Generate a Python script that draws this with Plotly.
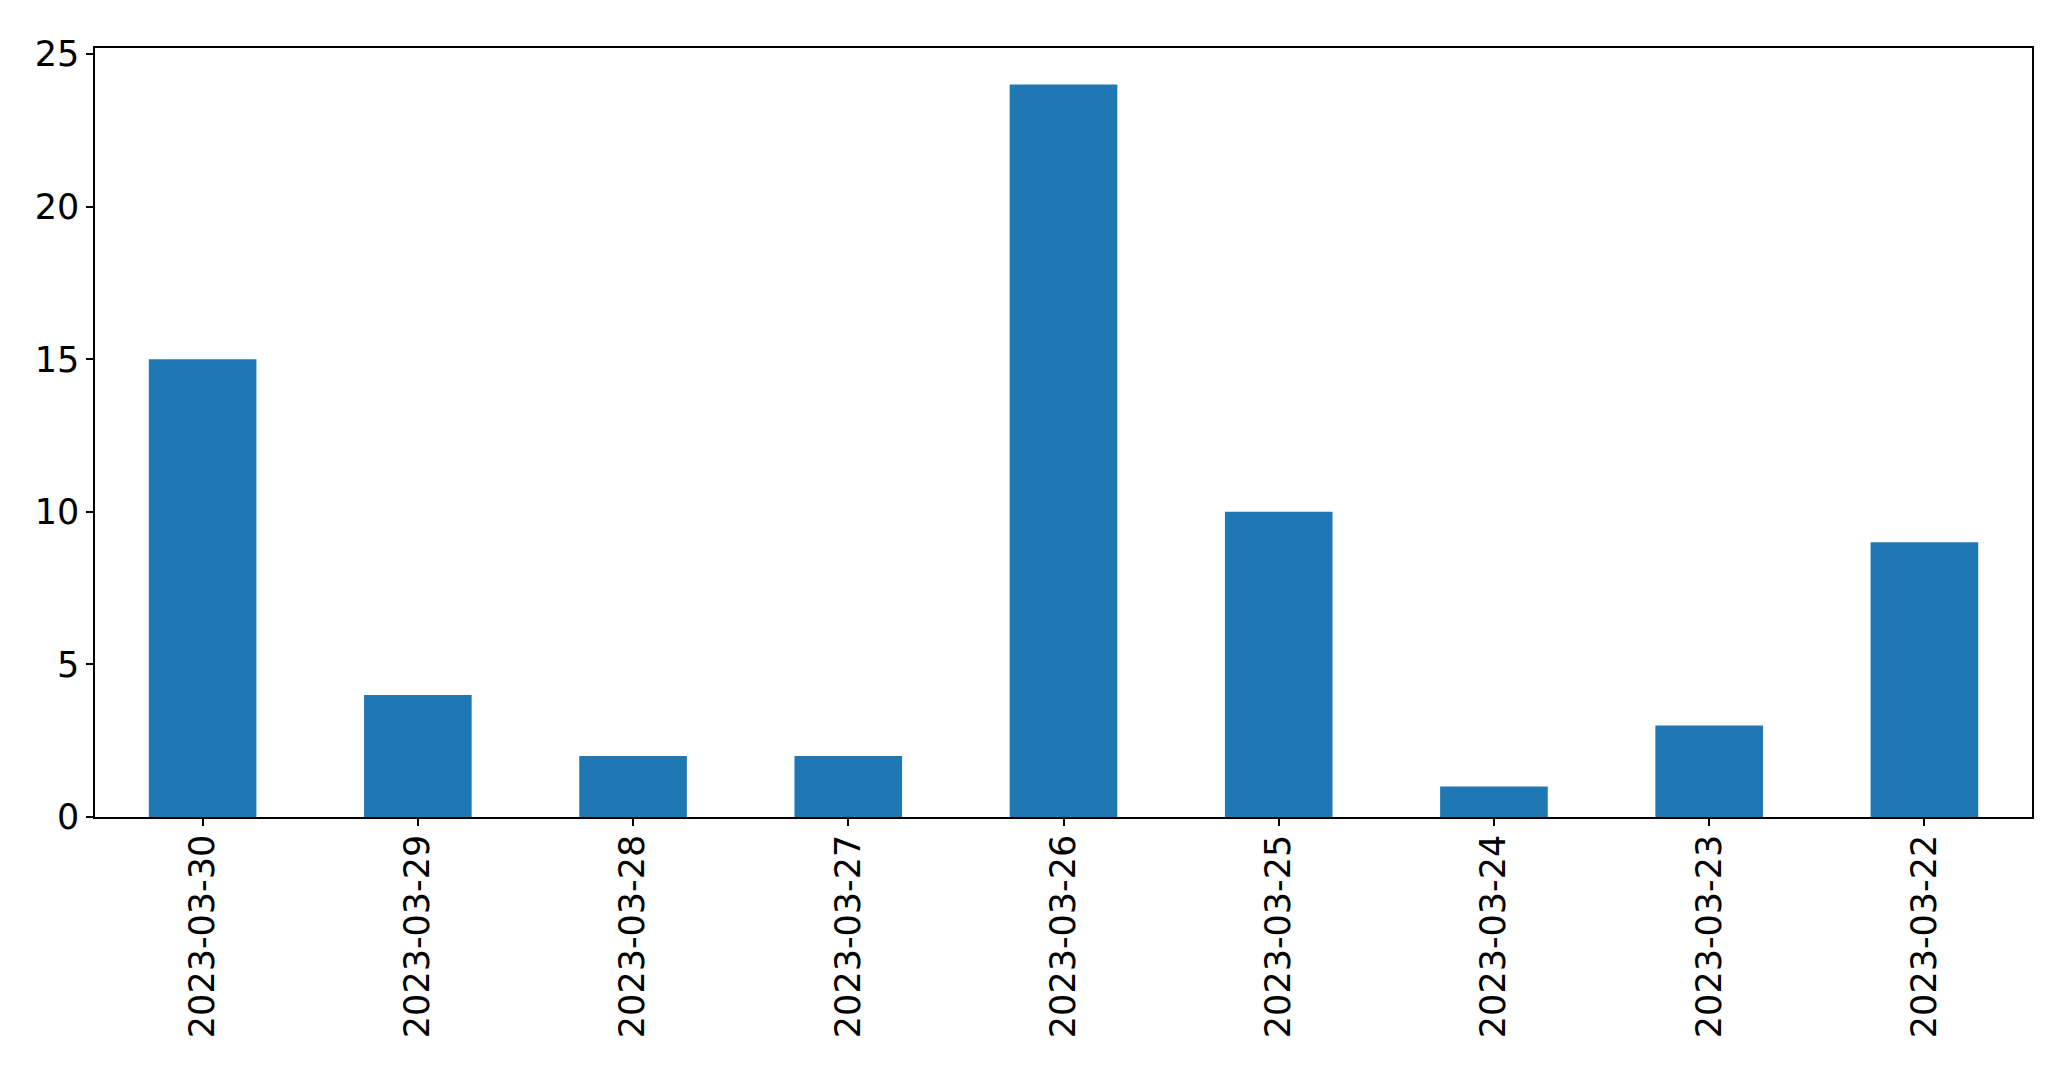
import plotly.graph_objects as go

dates = ["2023-03-30", "2023-03-29", "2023-03-28", "2023-03-27", "2023-03-26",
         "2023-03-25", "2023-03-24", "2023-03-23", "2023-03-22"]
counts = [15, 4, 2, 2, 24, 10, 1, 3, 9]

fig = go.Figure(go.Bar(x=dates, y=counts, marker=dict(color="#1f77b4", line=dict(width=0)), width=0.5))

font = dict(family="DejaVu Sans", size=35, color="black")
fig.update_layout(
    width=2055, height=1053,
    margin=dict(l=87, r=31, t=40, b=244),
    plot_bgcolor="white", paper_bgcolor="white",
    showlegend=False,
    font=font,
)
fig.update_xaxes(
    type="category", range=[-0.5, 8.5], automargin=False,
    tickangle=-90, ticks="outside", ticklen=7, tickwidth=1.5, tickcolor="black",
    ticklabelstandoff=-5,
    showline=True, linecolor="black", linewidth=1.5, mirror=True,
    showgrid=False, tickfont=font,
)
fig.update_yaxes(
    range=[0, 25.2], tickvals=[0, 5, 10, 15, 20, 25], automargin=False,
    ticks="outside", ticklen=7, tickwidth=1.5, tickcolor="black",
    showline=True, linecolor="black", linewidth=1.5, mirror=True,
    showgrid=False, zeroline=False, tickfont=font,
)
fig.write_html("out.html")
